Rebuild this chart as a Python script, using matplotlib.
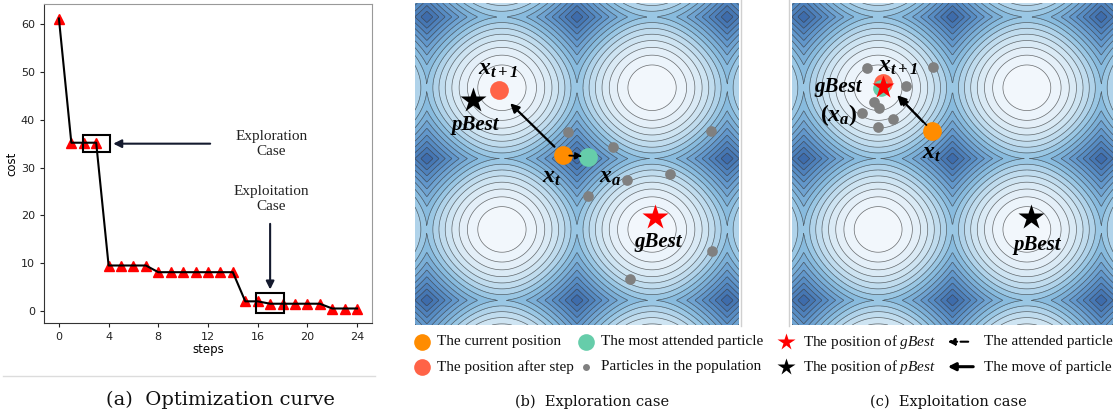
import numpy as np
import matplotlib.pyplot as plt
from matplotlib.colors import LinearSegmentedColormap
from matplotlib.patches import Rectangle

plt.rcParams['mathtext.fontset'] = 'custom'
plt.rcParams['mathtext.rm'] = 'Liberation Serif'
plt.rcParams['mathtext.it'] = 'Liberation Serif:italic'
plt.rcParams['mathtext.bf'] = 'Liberation Serif:bold'
plt.rcParams['mathtext.bfit'] = 'Liberation Serif:italic:bold'

# (a) optimization curve
steps = np.arange(25)
cost = [61.2, 35.2, 35.2, 35.2, 9.5, 9.5, 9.5, 9.5, 8.1, 8.1, 8.1, 8.1, 8.1,
        8.1, 8.1, 2.0, 2.0, 1.5, 1.5, 1.5, 1.5, 1.5, 0.5, 0.5, 0.5]
step_ticks = [0, 4, 8, 12, 16, 20, 24]
cost_ticks = [0, 10, 20, 30, 40, 50, 60]

# (b) exploration case, positions on the landscape
b_pbest = (-2.17, 1.31)
b_next = (-1.64, 1.52)
b_cur = (-0.29, 0.09)
b_att = (0.22, 0.04)
b_gbest = (1.63, -1.29)
b_pop_x = [-0.19, 0.75, 2.80, 1.04, 1.95, 0.22, 2.82, 1.10]
b_pop_y = [0.59, 0.26, 0.62, -0.48, -0.35, -0.83, -2.06, -2.68]

# (c) exploitation case
c_pbest = (1.65, -1.30)
c_next = (-1.46, 1.67)
c_cur = (-0.44, 0.62)
c_att = (-1.50, 1.57)
c_gbest = (-1.47, 1.59)
c_pop_x = [-1.81, -0.42, -0.99, -1.65, -1.55, -1.92, -1.25, -1.57]
c_pop_y = [2.00, 2.02, 1.62, 1.26, 1.12, 1.02, 0.88, 0.69]

XLIM = (-3.39, 3.39)
YLIM = (-3.69, 3.45)

C_CUR = '#ff8c00'
C_ATT = '#66cdaa'
C_NEXT = '#ff6347'
C_POP = '#808080'

fig = plt.figure(figsize=(11.16, 4.16), dpi=100)
W, H = 1116, 416


def px_axes(x0, y0, x1, y1):
    return fig.add_axes([x0 / W, 1 - y1 / H, (x1 - x0) / W, (y1 - y0) / H])


# ---- (a)
ax = px_axes(44, 4, 372, 323)
ax.plot(steps, cost, ls='none', marker='^', ms=7, color='red', zorder=2)
ax.plot(steps, cost, c='k', lw=1.5, zorder=3)
ax.set_xticks(step_ticks)
ax.set_yticks(cost_ticks)
ax.tick_params(labelsize=8, length=3, colors='#222222')
ax.set_xlabel('steps', fontsize=8.5, labelpad=1)
ax.set_ylabel('cost', fontsize=8.5, labelpad=2)
for s in ['left', 'bottom']:
    ax.spines[s].set_color('#333333')
for s in ['top', 'right']:
    ax.spines[s].set_color('#999999')
ax.add_patch(Rectangle((1.9, 33.2), 2.2, 3.7, fill=False, ec='k', lw=1.5, zorder=4))
ax.add_patch(Rectangle((15.85, -0.5), 2.25, 4.2, fill=False, ec='k', lw=1.5, zorder=4))
ax.annotate('', xy=(4.15, 35.0), xytext=(12.4, 35.0),
            arrowprops=dict(arrowstyle='-|>', color='#141a2e', lw=1.5, mutation_scale=12))
ax.annotate('', xy=(17.0, 3.9), xytext=(17.0, 18.8),
            arrowprops=dict(arrowstyle='-|>', color='#141a2e', lw=1.5, mutation_scale=12))
ax.text(17.1, 35.0, 'Exploration\nCase', ha='center', va='center', fontsize=11,
        family='Liberation Serif', color='#222222', linespacing=1.2)
ax.text(17.1, 23.5, 'Exploitation\nCase', ha='center', va='center', fontsize=11,
        family='Liberation Serif', color='#222222', linespacing=1.2)

# ---- landscape for (b) and (c)
gx = np.linspace(XLIM[0], XLIM[1], 500)
gy = np.linspace(YLIM[0], YLIM[1], 500)
GX, GY = np.meshgrid(gx, gy)
Z = 2 - np.abs(np.sin(GX)) - np.abs(np.sin(GY))
levels = np.linspace(0, 2, 17)
cmap = LinearSegmentedColormap.from_list(
    'land', [(0.0, '#f5f9fd'), (0.12, '#e9f2fa'), (0.25, '#d6e8f4'),
             (0.4, '#b3d5eb'), (0.5, '#8fc1e1'), (0.75, '#5c92c8'), (1.0, '#3a67a7')])


def landscape(a):
    a.contourf(GX, GY, Z, levels=levels, cmap=cmap)
    a.contour(GX, GY, Z, levels=levels[1:-1], colors='#404040', linewidths=0.5, alpha=0.75)
    a.set_xlim(XLIM)
    a.set_ylim(YLIM)
    a.axis('off')


lab = dict(family='Liberation Serif', fontweight='bold', fontstyle='italic',
           ha='center', va='center', color='k')

axb = px_axes(415, 3, 739, 325)
landscape(axb)
axb.annotate('', xy=(-1.44, 1.27), xytext=(-0.43, 0.22),
             arrowprops=dict(arrowstyle='-|>', color='k', lw=1.6, mutation_scale=13), zorder=6)
axb.plot(b_pop_x, b_pop_y, 'o', color=C_POP, ms=7.7, mec='none', zorder=5)
axb.plot(*b_cur, 'o', color=C_CUR, ms=13.5, mec='none', zorder=5)
axb.plot(*b_att, 'o', color=C_ATT, ms=13.5, mec='none', zorder=5)
axb.plot(*b_next, 'o', color=C_NEXT, ms=13.5, mec='none', zorder=5)
axb.plot(*b_pbest, '*', color='k', ms=19, mec='none', zorder=5)
axb.plot(*b_gbest, '*', color='red', ms=19, mec='none', zorder=5)
axb.annotate('', xy=(0.17, 0.05), xytext=(-0.22, 0.07),
             arrowprops=dict(arrowstyle='-|>', color='k', lw=1.3, ls='--', mutation_scale=10), zorder=7)
axb.text(-1.65, 2.01, r'$\mathbfit{x_{t+1}}$', fontsize=17, ha='center', va='center')
axb.text(-0.52, -0.38, r'$\mathbfit{x_{t}}$', fontsize=17, ha='center', va='center')
axb.text(0.69, -0.38, r'$\mathbfit{x_{a}}$', fontsize=17, ha='center', va='center')
axb.text(-2.14, 0.75, 'pBest', fontsize=15, **lab)
axb.text(1.70, -1.85, 'gBest', fontsize=15, **lab)

axc = px_axes(792, 3, 1113, 325)
landscape(axc)
axc.annotate('', xy=(-1.21, 1.45), xytext=(-0.58, 0.77),
             arrowprops=dict(arrowstyle='-|>', color='k', lw=1.6, mutation_scale=13), zorder=6)
axc.annotate('', xy=(-1.14, 1.38), xytext=(-0.51, 0.70),
             arrowprops=dict(arrowstyle='-|>', color='k', lw=1.3, ls='--', mutation_scale=10), zorder=6)
axc.plot(c_pop_x, c_pop_y, 'o', color=C_POP, ms=7.7, mec='none', zorder=5)
axc.plot(*c_cur, 'o', color=C_CUR, ms=13.5, mec='none', zorder=5)
axc.plot(*c_next, 'o', color=C_NEXT, ms=13.5, mec='none', zorder=5)
axc.plot(*c_att, 'o', color=C_ATT, ms=12, mec='none', zorder=5)
axc.plot(*c_gbest, '*', color='red', ms=17, mec='none', zorder=5)
axc.plot(*c_pbest, '*', color='k', ms=19, mec='none', zorder=5)
axc.text(-1.15, 2.07, r'$\mathbfit{x_{t+1}}$', fontsize=17, ha='center', va='center')
axc.text(-0.44, 0.15, r'$\mathbfit{x_{t}}$', fontsize=17, ha='center', va='center')
axc.text(-2.40, 0.97, r'$\mathbf{(}\mathbfit{x_{a}}\mathbf{)}$', fontsize=17, ha='center', va='center')
axc.text(-2.42, 1.59, 'gBest', fontsize=15, **lab)
axc.text(1.78, -1.92, 'pBest', fontsize=15, **lab)

# ---- overlay: legend, separators, captions (pixel coordinates)
ov = fig.add_axes([0, 0, 1, 1], facecolor='none')
ov.set_xlim(0, W)
ov.set_ylim(H, 0)
ov.axis('off')

ov.plot([3, 375], [376, 376], color='#dcdcdc', lw=1)
ov.plot([741, 741], [0, 326], color='#d0d0d0', lw=1)
ov.plot([789, 789], [0, 326], color='#d0d0d0', lw=1)

r1, r2 = 341.7, 366.7
tx = dict(fontsize=11, family='Liberation Serif', va='center', ha='left', color='#111111')
ov.plot(421.7, r1, 'o', color=C_CUR, ms=12, mec='none')
ov.text(436.7, r1, 'The current position', **tx)
ov.plot(421.7, r2, 'o', color=C_NEXT, ms=12, mec='none')
ov.text(436.7, r2, 'The position after step', **tx)
ov.plot(586, r1, 'o', color=C_ATT, ms=12, mec='none')
ov.text(601, r1, 'The most attended particle', **tx)
ov.plot(586, r2, 'o', color=C_POP, ms=5, mec='none')
ov.text(601, r2, 'Particles in the population', **tx)
ov.plot(785.5, r1, '*', color='red', ms=13, mec='none')
ov.text(803, r1, r'The position of $\mathit{gBest}$', **tx)
ov.plot(785.5, r2, '*', color='k', ms=13, mec='none')
ov.text(803, r2, r'The position of $\mathit{pBest}$', **tx)
ov.annotate('', xy=(945, r1), xytext=(971, r1),
            arrowprops=dict(arrowstyle='-|>', color='k', lw=1.5, ls='--', mutation_scale=10))
ov.text(983.7, r1, 'The attended particle', **tx)
ov.annotate('', xy=(945, r2), xytext=(976, r2),
            arrowprops=dict(arrowstyle='-|>', color='k', lw=2.2, mutation_scale=11))
ov.text(983.7, r2, 'The move of particle', **tx)

cap = dict(family='DejaVu Serif', ha='center', va='center', color='#111111')
ov.text(220, 400, '(a)  Optimization curve', fontsize=14, **cap)
ov.text(592, 401.7, '(b)  Exploration case', fontsize=10.5, **cap)
ov.text(948.4, 401.7, '(c)  Exploitation case', fontsize=10.5, **cap)

fig.savefig('out.png', dpi=100)
